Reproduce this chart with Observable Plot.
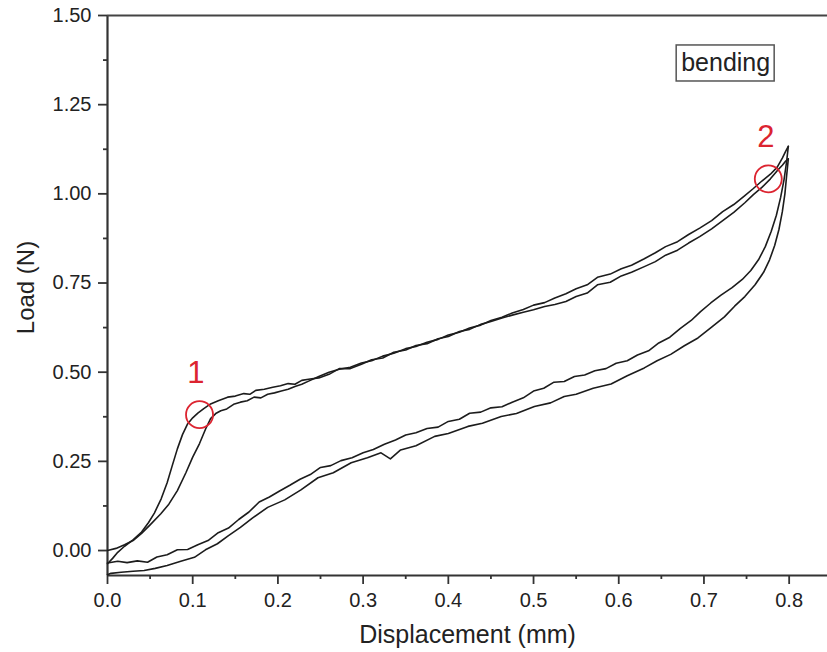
<!DOCTYPE html>
<html>
<head>
<meta charset="utf-8">
<script src="https://cdn.jsdelivr.net/npm/d3@7"></script>
<script src="https://cdn.jsdelivr.net/npm/@observablehq/plot@0.6"></script>
<style>
  html, body { margin: 0; padding: 0; background: #fff; }
  #chart { width: 827px; height: 652px; }
</style>
</head>
<body>
<div id="chart"></div>
<script>
// ---- tick values ----
const xTicks = [0, 0.1, 0.2, 0.3, 0.4, 0.5, 0.6, 0.7, 0.8];
const xMinor = [0.05, 0.15, 0.25, 0.35, 0.45, 0.55, 0.65, 0.75];
const yTicks = [0, 0.25, 0.5, 0.75, 1.0, 1.25, 1.5];
const yMinor = [0.125, 0.375, 0.625, 0.875, 1.125, 1.375];

// ---- cycle 1 loading (ends at upper tip) ----
const load1X = [0, 0.010, 0.020, 0.030, 0.040, 0.050, 0.0626, 0.072, 0.082, 0.092, 0.100, 0.108, 0.115, 0.121, 0.127, 0.133, 0.140, 0.148, 0.156, 0.164, 0.172, 0.180, 0.188, 0.196, 0.204, 0.212, 0.220, 0.228, 0.236,
  0.248, 0.260, 0.272, 0.285, 0.298, 0.310, 0.323, 0.336, 0.350, 0.362, 0.375, 0.388, 0.400, 0.413, 0.425, 0.438, 0.450, 0.463, 0.475, 0.488, 0.500, 0.513, 0.525, 0.538, 0.550, 0.563, 0.575, 0.590, 0.603, 0.615, 0.630, 0.643, 0.655, 0.669, 0.682, 0.695, 0.709, 0.722, 0.735, 0.748, 0.758, 0.768, 0.778, 0.786, 0.792, 0.796, 0.799];
const load1Y = [0, 0.006, 0.016, 0.028, 0.048, 0.072, 0.103, 0.130, 0.168, 0.218, 0.262, 0.300, 0.340, 0.370, 0.384, 0.392, 0.397, 0.410, 0.416, 0.420, 0.430, 0.428, 0.438, 0.442, 0.447, 0.452, 0.460, 0.466, 0.475,
  0.488, 0.500, 0.508, 0.514, 0.526, 0.532, 0.545, 0.553, 0.566, 0.572, 0.584, 0.592, 0.604, 0.612, 0.624, 0.632, 0.645, 0.654, 0.666, 0.676, 0.688, 0.695, 0.708, 0.720, 0.734, 0.745, 0.766, 0.775, 0.790, 0.800, 0.818, 0.835, 0.852, 0.866, 0.886, 0.904, 0.925, 0.950, 0.970, 0.995, 1.015, 1.036, 1.055, 1.075, 1.100, 1.120, 1.133];

// ---- cycle 1 unloading ----
const unload1X = [0.799, 0.797, 0.794, 0.790, 0.785, 0.779, 0.772, 0.764, 0.755, 0.745, 0.733, 0.720, 0.708, 0.696, 0.685, 0.672, 0.660, 0.647, 0.635, 0.622, 0.610, 0.597, 0.585, 0.572, 0.560, 0.548, 0.536, 0.524, 0.512, 0.500, 0.488, 0.475, 0.463, 0.450, 0.438, 0.425, 0.413, 0.400, 0.388, 0.375, 0.362, 0.350, 0.338, 0.325, 0.312, 0.300, 0.287, 0.274, 0.262, 0.250, 0.238, 0.226, 0.214, 0.202, 0.190, 0.178, 0.166, 0.154, 0.142, 0.130, 0.118, 0.106, 0.094, 0.082, 0.070, 0.058, 0.047, 0.035, 0.023, 0.012, 0.000];
const unload1Y = [1.133, 1.090, 1.040, 0.990, 0.940, 0.895, 0.852, 0.815, 0.785, 0.760, 0.737, 0.716, 0.694, 0.670, 0.645, 0.622, 0.598, 0.582, 0.560, 0.548, 0.532, 0.525, 0.510, 0.504, 0.492, 0.488, 0.474, 0.472, 0.455, 0.447, 0.428, 0.416, 0.403, 0.400, 0.388, 0.385, 0.368, 0.362, 0.346, 0.342, 0.330, 0.324, 0.310, 0.298, 0.283, 0.274, 0.260, 0.252, 0.238, 0.233, 0.213, 0.200, 0.183, 0.167, 0.150, 0.136, 0.108, 0.087, 0.063, 0.050, 0.028, 0.016, 0.003, 0.002, -0.012, -0.018, -0.033, -0.029, -0.034, -0.030, -0.035];

// ---- cycle 2 loading (ends at lower tip) ----
const load2X = [0, 0.006, 0.012, 0.020, 0.030, 0.040, 0.048, 0.055, 0.063, 0.070, 0.076, 0.082, 0.088, 0.094, 0.100, 0.106, 0.113, 0.121, 0.130, 0.141, 0.150, 0.160, 0.167, 0.174, 0.184, 0.194, 0.203, 0.212, 0.220, 0.228, 0.236,
  0.248, 0.260, 0.272, 0.285, 0.298, 0.310, 0.323, 0.336, 0.350, 0.362, 0.375, 0.388, 0.400, 0.413, 0.425, 0.438, 0.450, 0.463, 0.475, 0.488, 0.500, 0.513, 0.525, 0.538, 0.550, 0.563, 0.575, 0.590, 0.603, 0.615, 0.630, 0.643, 0.655, 0.669, 0.682, 0.695, 0.709, 0.722, 0.735, 0.748, 0.758, 0.768, 0.778, 0.786, 0.792, 0.796, 0.799];
const load2Y = [-0.037, -0.022, -0.005, 0.012, 0.030, 0.052, 0.078, 0.105, 0.145, 0.190, 0.238, 0.285, 0.325, 0.355, 0.372, 0.385, 0.398, 0.411, 0.420, 0.430, 0.433, 0.440, 0.438, 0.449, 0.452, 0.458, 0.462, 0.468, 0.466, 0.477, 0.480,
  0.484, 0.494, 0.510, 0.510, 0.522, 0.535, 0.540, 0.556, 0.562, 0.575, 0.580, 0.594, 0.600, 0.614, 0.620, 0.634, 0.642, 0.652, 0.660, 0.668, 0.675, 0.684, 0.690, 0.698, 0.712, 0.722, 0.745, 0.752, 0.770, 0.780, 0.796, 0.810, 0.828, 0.842, 0.862, 0.880, 0.902, 0.925, 0.948, 0.975, 0.998, 1.018, 1.042, 1.065, 1.080, 1.092, 1.098];

// ---- cycle 2 unloading ----
const unload2X = [0.799, 0.797, 0.795, 0.792, 0.788, 0.783, 0.777, 0.770, 0.760, 0.748, 0.736, 0.724, 0.709, 0.693, 0.677, 0.661, 0.645, 0.630, 0.610, 0.591, 0.570, 0.550, 0.536, 0.520, 0.501, 0.480, 0.462, 0.440, 0.423, 0.400, 0.384, 0.362, 0.344, 0.332, 0.321, 0.305, 0.286, 0.265, 0.247, 0.227, 0.208, 0.188, 0.170, 0.156, 0.142, 0.129, 0.115, 0.102, 0.086, 0.070, 0.056, 0.043, 0.030, 0.016, 0.004, 0.000];
const unload2Y = [1.098, 1.050, 1.000, 0.950, 0.900, 0.855, 0.815, 0.780, 0.745, 0.712, 0.685, 0.655, 0.626, 0.596, 0.574, 0.550, 0.532, 0.512, 0.490, 0.467, 0.455, 0.438, 0.432, 0.414, 0.404, 0.384, 0.376, 0.357, 0.348, 0.328, 0.320, 0.294, 0.282, 0.257, 0.274, 0.260, 0.246, 0.218, 0.204, 0.170, 0.142, 0.121, 0.091, 0.065, 0.042, 0.019, 0.002, -0.019, -0.030, -0.042, -0.050, -0.056, -0.058, -0.061, -0.064, -0.068];

// ---- annotations ----
const markerX = [0.108, 0.7755];
const markerY = [0.381, 1.042];
const markerLabels = ["1", "2"];
const markerLabelX = [0.1036, 0.7727];
const markerLabelY = [0.471, 1.130];

const xDomain = [0, 0.845];
const yDomain = [-0.07, 1.5];

function seg(name, xs, ys) { return xs.map((x, i) => ({ seg: name, x, y: ys[i] })); }
const curves = [
  ...seg("load1", load1X, load1Y),
  ...seg("unload1", unload1X, unload1Y),
  ...seg("load2", load2X, load2Y),
  ...seg("unload2", unload2X, unload2Y)
];
const markers = markerX.map((x, i) => ({ x, y: markerY[i] }));
const labels = markerLabels.map((t, i) => ({ t, x: markerLabelX[i], y: markerLabelY[i] }));

const axisColor = "#333";
const red = "#dc2430";

const chart = Plot.plot({
  width: 827,
  height: 652,
  marginLeft: 107,
  marginRight: 0,
  marginTop: 15,
  marginBottom: 77,
  x: { domain: xDomain },
  y: { domain: yDomain },
  style: { fontFamily: "'Liberation Sans', Arial, sans-serif", color: "#222", background: "#fff", overflow: "visible" },
  marks: [
    Plot.axisX({ ticks: xTicks, tickSize: 9, tickPadding: 8, tickFormat: d3.format(".1f"), fontSize: 20, label: null, stroke: axisColor, strokeWidth: 1.8 }),
    Plot.axisX({ ticks: xMinor, tickSize: 4, tickFormat: () => "", label: null, stroke: axisColor, strokeWidth: 1.8 }),
    Plot.axisY({ ticks: yTicks, tickSize: 9, tickPadding: 7, tickFormat: d3.format(".2f"), fontSize: 20, label: null, stroke: axisColor, strokeWidth: 1.8 }),
    Plot.axisY({ ticks: yMinor, tickSize: 4, tickFormat: () => "", label: null, stroke: axisColor, strokeWidth: 1.8 }),
    Plot.ruleX([xDomain[0]], { stroke: axisColor, strokeWidth: 2.2 }),
    Plot.ruleY([yDomain[0]], { stroke: axisColor, strokeWidth: 2.2 }),
    Plot.ruleY([yDomain[1]], { stroke: "#444", strokeWidth: 2.2 }),
    Plot.line(curves, { x: "x", y: "y", z: "seg", stroke: "#1c1c1c", strokeWidth: 1.6, strokeLinejoin: "round" }),
    Plot.dot(markers, { x: "x", y: "y", r: 13.5, stroke: red, strokeWidth: 1.8, fill: "none" }),
    Plot.text(labels, { x: "x", y: "y", text: "t", fill: red, fontSize: 31, lineAnchor: "bottom" }),
    Plot.rect([{ x1: 0.668, x2: 0.783, y1: 1.315, y2: 1.416 }], { x1: "x1", x2: "x2", y1: "y1", y2: "y2", fill: "none", stroke: "#555", strokeWidth: 1.5 }),
    Plot.text(["bending"], { x: 0.7255, y: 1.3655, fontSize: 25, fill: "#222" }),
    Plot.text(["Displacement (mm)"], { frameAnchor: "bottom", dy: 67, lineAnchor: "bottom", fontSize: 25, fill: "#222" }),
    Plot.text(["Load (N)"], { frameAnchor: "left", textAnchor: "middle", dx: -81, dy: -8, rotate: -90, fontSize: 24, fill: "#222" })
  ]
});
document.getElementById("chart").appendChild(chart);
</script>
</body>
</html>
